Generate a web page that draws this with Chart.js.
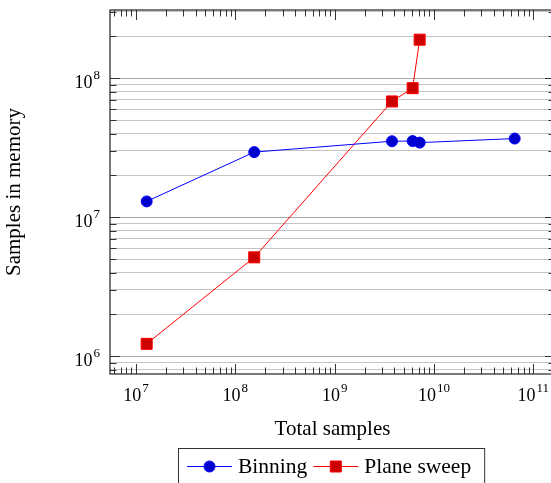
<!DOCTYPE html>
<html>
<head>
<meta charset="utf-8">
<script src="https://cdn.jsdelivr.net/npm/chart.js@4"></script>
<style>
  html, body { margin: 0; padding: 0; overflow: hidden; background: #fff; }
  #wrap { width: 560px; height: 483px; }
</style>
</head>
<body>
<div id="wrap"><canvas id="memChart" width="560" height="483"></canvas></div>
<script>
// values
const binningTotal = [1.28e7, 1.55e8, 3.78e9, 6.1e9, 7.18e9, 6.5e10];
const binningMem   = [1.30e7, 2.94e7, 3.52e7, 3.53e7, 3.44e7, 3.68e7];
const sweepTotal   = [1.28e7, 1.55e8, 3.78e9, 6.1e9, 7.18e9];
const sweepMem     = [1.23e6, 5.15e6, 6.8e7, 8.47e7, 1.89e8];
const seriesNames  = ['Binning', 'Plane sweep'];

const xTickExps = [7, 8, 9, 10, 11];
const yTickExps = [6, 7, 8];

const xMin = Math.pow(10, 6.738), xMax = Math.pow(10, 11.219);
const yMin = Math.pow(10, 5.873), yMax = Math.pow(10, 8.49);

const FONT = '"Liberation Serif", "Times New Roman", serif';

const isMajor = v => Math.abs(Math.log10(v) - Math.round(Math.log10(v))) < 1e-9;

// every k * 10^e inside [lo, hi]
function logSteps(lo, hi) {
    const out = [];
    for (let e = Math.floor(Math.log10(lo)); e <= Math.ceil(Math.log10(hi)); e++) {
        for (let m = 1; m <= 9; m++) {
            const v = m * Math.pow(10, e);
            if (v >= lo && v <= hi) out.push(v);
        }
    }
    return out;
}

const toPoints = (xs, ys) => xs.map((x, i) => ({ x: x, y: ys[i] }));

function drawPower(ctx, x, baseY, exp, align) {
    ctx.font = '18px ' + FONT;
    const wb = ctx.measureText('10').width;
    ctx.font = '13px ' + FONT;
    const we = ctx.measureText(String(exp)).width;
    const total = wb + 1 + we;
    const x0 = align === 'center' ? x - total / 2 : x - total;
    ctx.textAlign = 'left';
    ctx.textBaseline = 'alphabetic';
    ctx.fillStyle = '#000';
    ctx.font = '18px ' + FONT;
    ctx.fillText('10', x0, baseY);
    ctx.font = '13px ' + FONT;
    ctx.fillText(String(exp), x0 + wb + 1, baseY - 8.5);
}

const axisFrame = {
    id: 'axisFrame',
    afterDraw(chart) {
        const { ctx, chartArea: a, scales: { x, y } } = chart;
        ctx.save();
        ctx.strokeStyle = '#333';
        ctx.lineWidth = 1;
        ctx.beginPath();
        // x ticks, inward at bottom and top
        logSteps(xMin, xMax).forEach(v => {
            const px = Math.round(x.getPixelForValue(v)) + 0.5;
            const len = isMajor(v) ? 10 : 6.5;
            ctx.moveTo(px, a.bottom); ctx.lineTo(px, a.bottom - len);
            ctx.moveTo(px, a.top); ctx.lineTo(px, a.top + len);
        });
        // y ticks, inward at left and right
        logSteps(yMin, yMax).forEach(v => {
            const py = Math.round(y.getPixelForValue(v)) + 0.5;
            const len = isMajor(v) ? 10 : 6.5;
            ctx.moveTo(a.left, py); ctx.lineTo(a.left + len, py);
            ctx.moveTo(a.right, py); ctx.lineTo(a.right - len, py);
        });
        ctx.stroke();

        ctx.strokeStyle = '#222';
        ctx.lineWidth = 1.2;
        ctx.strokeRect(a.left, a.top, a.right - a.left, a.bottom - a.top);

        xTickExps.forEach(e => drawPower(ctx, x.getPixelForValue(Math.pow(10, e)), a.bottom + 26.5, e, 'center'));
        yTickExps.forEach(e => drawPower(ctx, a.left - 10, y.getPixelForValue(Math.pow(10, e)) + 9.6, e, 'right'));

        // legend box
        const lx = 178, ly = 448, lh = 44;
        ctx.font = '21.5px ' + FONT;
        let cx = lx + 9;
        const rowY = 466.5;
        const items = chart.data.datasets;
        let w = 9 + 7;
        items.forEach(ds => { w += 45 + 6 + ctx.measureText(ds.label).width + 6; });
        ctx.strokeStyle = '#333';
        ctx.lineWidth = 1;
        ctx.strokeRect(lx + 0.5, ly + 0.5, w, lh);
        items.forEach(ds => {
            ctx.strokeStyle = ds.borderColor;
            ctx.lineWidth = 1;
            ctx.beginPath();
            ctx.moveTo(cx, rowY); ctx.lineTo(cx + 45, rowY);
            ctx.stroke();
            ctx.fillStyle = ds.pointBackgroundColor;
            ctx.strokeStyle = ds.pointBorderColor;
            ctx.beginPath();
            if (ds.pointStyle === 'rect') {
                ctx.rect(cx + 22.5 - 5.5, rowY - 5.5, 11, 11);
            } else {
                ctx.arc(cx + 22.5, rowY, 5.5, 0, Math.PI * 2);
            }
            ctx.fill();
            ctx.stroke();
            ctx.fillStyle = '#000';
            ctx.textAlign = 'left';
            ctx.textBaseline = 'alphabetic';
            ctx.font = '21.5px ' + FONT;
            ctx.fillText(ds.label, cx + 51, rowY + 6.5);
            cx += 51 + ctx.measureText(ds.label).width + 6;
        });
        ctx.restore();
    }
};

const memChart = new Chart(document.getElementById('memChart'), {
    type: 'line',
    data: {
        datasets: [
            {
                label: seriesNames[0],
                data: toPoints(binningTotal, binningMem),
                borderColor: '#0000ff', borderWidth: 1, tension: 0, fill: false,
                pointStyle: 'circle', pointRadius: 5.5,
                pointBackgroundColor: '#0000cc', pointBorderColor: '#0000ff', pointBorderWidth: 1
            },
            {
                label: seriesNames[1],
                data: toPoints(sweepTotal, sweepMem),
                borderColor: '#ff0000', borderWidth: 1, tension: 0, fill: false,
                pointStyle: 'rect', pointRadius: 7.8,
                pointBackgroundColor: '#cc0000', pointBorderColor: '#ff0000', pointBorderWidth: 1
            }
        ]
    },
    options: {
        responsive: false,
        animation: false,
        devicePixelRatio: 1,
        layout: { autoPadding: false, padding: { left: 0, right: 5, top: 10, bottom: 0 } },
        plugins: { legend: { display: false }, tooltip: { enabled: false } },
        scales: {
            x: {
                type: 'logarithmic', position: 'bottom',
                min: xMin, max: xMax, bounds: 'data',
                grid: { display: false },
                border: { display: false },
                ticks: { display: false },
                title: {
                    display: true, text: 'Total samples', color: '#000',
                    font: { family: FONT, size: 21 },
                    padding: { top: 0, bottom: 41 }
                },
                afterFit: s => { s.height = 109; }
            },
            y: {
                type: 'logarithmic', position: 'left',
                min: yMin, max: yMax, bounds: 'data',
                afterBuildTicks: s => { s.ticks = logSteps(yMin, yMax).map(v => ({ value: v })); },
                grid: {
                    drawTicks: false,
                    lineWidth: 1,
                    color: c => isMajor(c.tick.value) ? '#a8a8a8' : '#c4c4c4'
                },
                border: { display: false },
                ticks: { display: false },
                title: {
                    display: true, text: 'Samples in memory', color: '#000',
                    font: { family: FONT, size: 21 },
                    padding: { top: 1.4, bottom: 0 }
                },
                afterFit: s => { s.width = 110; }
            }
        }
    },
    plugins: [axisFrame]
});
</script>
</body>
</html>
